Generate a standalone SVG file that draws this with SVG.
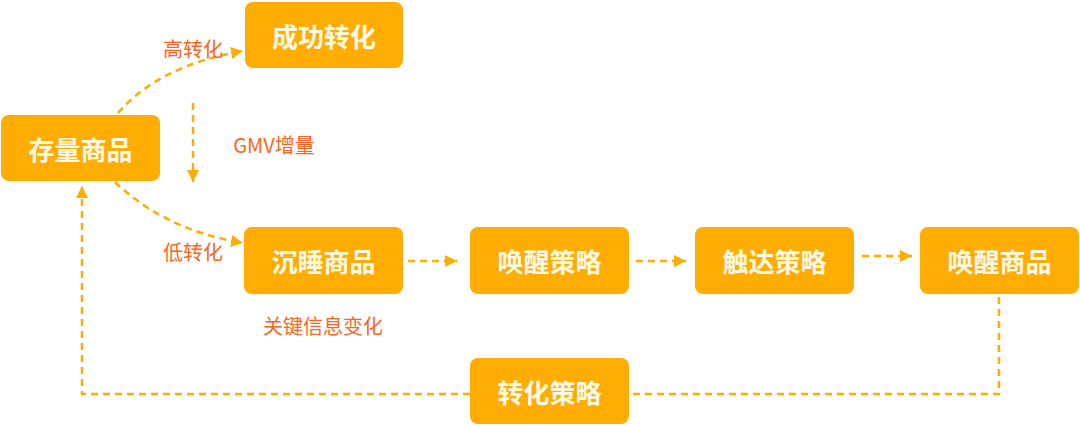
<svg xmlns="http://www.w3.org/2000/svg" width="1080" height="426" viewBox="0 0 1080 426">
<style>
.box{fill:#FFAD03;}
.nt{font-family:"Noto Sans CJK SC","Noto Sans",sans-serif;font-weight:bold;font-size:26px;fill:#FFF9E6;text-anchor:middle;dominant-baseline:central;}
.lb{font-family:"Noto Sans CJK SC","Noto Sans",sans-serif;font-size:20px;fill:#FF6419;text-anchor:middle;dominant-baseline:central;}
.c{fill:none;stroke:#FFAD03;stroke-width:2.5;stroke-dasharray:7 5;}
</style>
<defs>
<marker id="ah" viewBox="0 0 10 10" refX="10" refY="5" markerWidth="12" markerHeight="12" markerUnits="userSpaceOnUse" orient="auto">
<path d="M0,0 L10,5 L0,10 Z" fill="#FFAD03"/>
</marker>
</defs>
<rect width="1080" height="426" fill="#FFFFFF"/>
<g id="connectors">
<path class="c" d="M118,113 Q160,65 243,51" marker-end="url(#ah)"/>
<path class="c" d="M115,182 Q165,230 243,243" marker-end="url(#ah)"/>
<path class="c" d="M193,103 L193,182" marker-end="url(#ah)"/>
<path class="c" d="M408,261 L457,261" marker-end="url(#ah)"/>
<path class="c" d="M636,261 L686,261" marker-end="url(#ah)"/>
<path class="c" d="M862,256 L912,256" marker-end="url(#ah)"/>
<path class="c" d="M999,297 L999,394 L629,394"/>
<path class="c" d="M470,394 L82,394 L82,186" marker-end="url(#ah)"/>
</g>
<g id="labels">
<text class="lb" x="193" y="48">高转化</text>
<text class="lb" x="193" y="251">低转化</text>
<text class="lb" x="274" y="144">GMV增量</text>
<text class="lb" x="323" y="325">关键信息变化</text>
</g>
<g id="n-stock"><rect class="box" x="1" y="115" width="159" height="66" rx="8"/><text class="nt" x="80.5" y="148">存量商品</text></g>
<g id="n-success"><rect class="box" x="245" y="2" width="158" height="66" rx="8"/><text class="nt" x="324" y="35">成功转化</text></g>
<g id="n-sleep"><rect class="box" x="244" y="227" width="159" height="67" rx="8"/><text class="nt" x="323.5" y="260.5">沉睡商品</text></g>
<g id="n-wake-strategy"><rect class="box" x="470" y="227" width="159" height="67" rx="8"/><text class="nt" x="549.5" y="260.5">唤醒策略</text></g>
<g id="n-reach"><rect class="box" x="695" y="227" width="159" height="67" rx="8"/><text class="nt" x="774.5" y="260.5">触达策略</text></g>
<g id="n-woken"><rect class="box" x="920" y="227" width="159" height="67" rx="8"/><text class="nt" x="999.5" y="260.5">唤醒商品</text></g>
<g id="n-convert"><rect class="box" x="470" y="358" width="159" height="66" rx="8"/><text class="nt" x="549.5" y="391">转化策略</text></g>
</svg>
